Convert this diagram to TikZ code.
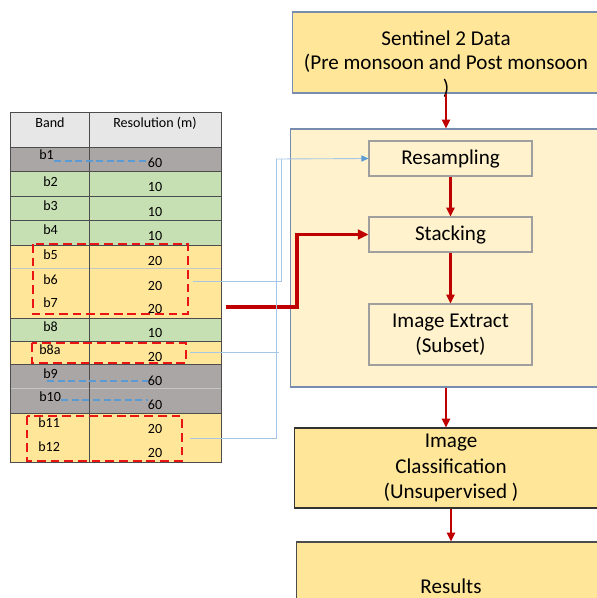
\documentclass[tikz,border=0pt]{standalone}
\usepackage{fontspec}
\setmainfont{Carlito}
\usetikzlibrary{arrows.meta, positioning}
\definecolor{headgray}{RGB}{232,231,231}
\definecolor{rowgray}{RGB}{171,166,166}
\definecolor{rowgreen}{RGB}{198,224,180}
\definecolor{rowyellow}{RGB}{255,230,153}
\definecolor{paleyellow}{RGB}{255,242,204}
\definecolor{darkred}{RGB}{192,0,0}
\definecolor{dashred}{RGB}{235,20,20}
\definecolor{dashblue}{RGB}{91,155,213}
\definecolor{linkblue}{RGB}{165,198,228}
\definecolor{edgeblue}{RGB}{120,140,175}
\newcommand{\boxfont}{\fontsize{12}{14.5}\selectfont}
\newcommand{\cellfont}{\fontsize{8}{9}\selectfont}

\begin{document}
\begin{tikzpicture}[x=0.02cm, y=-0.02cm,
	band/.style={anchor=west, inner sep=0pt, font=\cellfont},
	res/.style={inner sep=0pt, font=\cellfont},
	srcbox/.style={draw=edgeblue, fill=rowyellow, line width=0.6pt},
	procbox/.style={draw=gray!75, fill=paleyellow, line width=0.6pt, minimum width=3.26cm, align=center, font=\boxfont},
	flow/.style={draw=darkred, line width=1.2pt, -{Triangle[length=5pt, width=4.5pt]}},
	group/.style={draw=dashred, line width=1.7pt, dash pattern=on 5pt off 2.8pt},
	drop/.style={draw=dashblue, line width=1.2pt, dash pattern=on 4pt off 2pt},
	link/.style={draw=linkblue, line width=0.5pt}]
	\useasboundingbox (0,0) rectangle (597,598);
	% Band table
	\fill[headgray] (10,112) rectangle (221,147);
	\fill[rowgray] (10,147) rectangle (221,171);
	\fill[rowgreen] (10,171) rectangle (221,245);
	\fill[rowyellow] (10,245) rectangle (221,318);
	\fill[rowgreen] (10,318) rectangle (221,341);
	\fill[rowyellow] (10,341) rectangle (221,364);
	\fill[rowgray] (10,364) rectangle (221,413);
	\fill[rowyellow] (10,413) rectangle (221,462);
	\draw[gray!60!black, line width=0.4pt] (10,147) -- (221,147) (10,171) -- (221,171) (10,196) -- (221,196) (10,220) -- (221,220) (10,245) -- (221,245) (10,318) -- (221,318) (10,341) -- (221,341) (10,364) -- (221,364) (10,413) -- (221,413);
	\draw[gray!45, line width=0.4pt] (10,268) -- (221,268) (10,388) -- (221,388);
	\draw[gray!60!black, line width=0.4pt] (89,112) -- (89,462) (10,112) rectangle (221,462);
	\node[res] (hband) at (50,123) {Band};
	\node[res] (hres) at (155,123) {Resolution (m)};
	\node[band] (b1) at (39,155) {b1};     \node[res] (v1) at (155,163) {60};
	\node[band] (b2) at (43,182) {b2};     \node[res] (v2) at (155,187) {10};
	\node[band] (b3) at (43,206) {b3};     \node[res] (v3) at (155,212) {10};
	\node[band] (b4) at (43,230) {b4};     \node[res] (v4) at (155,236) {10};
	\node[band] (b5) at (43,255) {b5};     \node[res] (v5) at (155,261) {20};
	\node[band] (b6) at (43,280) {b6};     \node[res] (v6) at (155,286) {20};
	\node[band] (b7) at (43,303) {b7};     \node[res] (v7) at (155,309) {20};
	\node[band] (b8) at (43,327) {b8};     \node[res] (v8) at (155,333) {10};
	\node[band] (b8a) at (39,350) {b8a};   \node[res] (v8a) at (155,357) {20};
	\node[band] (b9) at (43,374) {b9};     \node[res] (v9) at (155,381) {60};
	\node[band] (b10) at (39,397) {b10};   \node[res] (v10) at (155,405) {60};
	\node[band] (b11) at (38,423) {b11};   \node[res] (v11) at (155,429) {20};
	\node[band] (b12) at (38,447) {b12};   \node[res] (v12) at (155,453) {20};
	% 60 m bands dropped
	\draw[drop] (b1.east |- 0,161) -- (v1.west |- 0,161);
	\draw[drop] (47,381) -- (v9.west);
	\draw[drop] (b10.east |- 0,400) -- (v10.west |- 0,400);
	% 20 m groups
	\draw[group] (33,244) rectangle (188,314);
	\draw[group] (32,343) rectangle (186,363);
	\draw[group] (27,416) rectangle (182,461);
	% Flow chart
	\node[srcbox, minimum width=6.16cm, minimum height=1.62cm] (sentinel) at (446,52.5) {};
	\node[align=center, font=\fontsize{12}{14}\selectfont] (sentineltxt) at (446,64) {Sentinel 2 Data\\(Pre monsoon and Post monsoon\\)};
	\node[draw=edgeblue, fill=paleyellow, line width=0.6pt, minimum width=6.24cm, minimum height=5.16cm] (stage) at (446,258) {};
	\node[procbox, minimum height=0.7cm] (resamp) at (450.5,158.5) {Resampling};
	\node[procbox, minimum height=0.7cm] (stack) at (450.5,234.5) {Stacking};
	\node[procbox, minimum height=1.22cm] (extract) at (450.5,334.5) {Image Extract\\(Subset)};
	\node[srcbox, draw=black!80, minimum width=6.28cm, minimum height=1.6cm, align=center, font=\boxfont] (classif) at (451,468) {Image\\Classification\\(Unsupervised )};
	\node[srcbox, draw=black!70, minimum width=6.2cm, minimum height=1.76cm, font=\boxfont] (results) at (451,586) {Results};
	\draw[flow] (sentinel.south) -- (stage.north);
	\draw[flow] (resamp) -- (stack);
	\draw[flow] (stack) -- (extract);
	\draw[flow] (stage.south) -- (stage.south |- classif.north);
	\draw[flow] (classif) -- (results);
	% 20 m bands to stacking
	\coordinate (feed) at (226,307);
	\coordinate (bend) at (297,307);
	\draw[flow, line width=1.8pt, -{Triangle[length=6pt, width=5.5pt]}] (feed) -- (bend) |- (stack.west);
	% 20 m bands to resampling
	\coordinate (s20a) at (193,281);
	\coordinate (s20b) at (190,352);
	\coordinate (s20c) at (190,438);
	\coordinate (joina) at (281,159);
	\coordinate (joinb) at (276,159);
	\draw[link] (s20a) -| (joina);
	\draw[link] (s20b) -- (279,352);
	\draw[link] (s20c) -| (joinb);
	\draw[link, -{Triangle[length=4pt, width=3.5pt, color=dashblue]}] (joinb) -- (resamp.west);
\end{tikzpicture}
\end{document}
